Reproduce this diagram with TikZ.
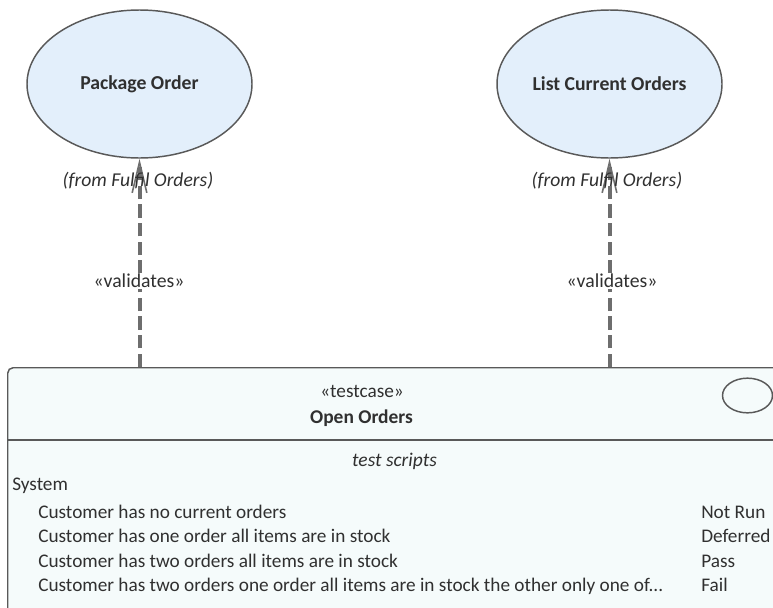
\documentclass[tikz,border=0pt]{standalone}
\usepackage{fontspec}
\setmainfont{Carlito}
\usetikzlibrary{shapes.geometric,arrows.meta}
\definecolor{txt}{HTML}{303030}
\definecolor{ucfill}{HTML}{E3EFFB}
\definecolor{tcfill}{HTML}{F5FBFB}
\definecolor{bord}{HTML}{595959}
\definecolor{dep}{HTML}{6E6E6E}
\tikzset{
  usecase/.style={ellipse, draw=bord, fill=ucfill, line width=1.1pt, minimum width=168.75pt, minimum height=111pt, inner sep=0pt, font=\fontsize{14.8}{17}\selectfont\bfseries, text=txt},
  fromlbl/.style={anchor=base, font=\fontsize{14.7}{17}\selectfont\itshape, text=txt, inner sep=0pt},
  deparrow/.style={draw=dep, line width=3pt, dash pattern=on 10pt off 4pt, -{Straight Barb[length=23pt,width=11pt,line width=1.2pt]}},
  stereo/.style={fill=white, inner sep=1pt, font=\fontsize{14.8}{17}\selectfont, text=txt},
  tctext/.style={anchor=base, inner sep=0pt, font=\fontsize{14.45}{17}\selectfont, text=txt},
}
\begin{document}
\begin{tikzpicture}[x=0.75pt,y=-0.75pt]
\useasboundingbox (0,0) rectangle (773,607);
% use cases
\node[usecase] (po) at (139.5,84) {Package Order};
\node[usecase] (lco) at (609.5,84) {List Current Orders};
% test case box
\begin{scope}
\clip (0,0) rectangle (773,607);
\node[draw=bord, fill=tcfill, line width=1.1pt, rounded corners=4pt, anchor=north west, minimum width=587pt, minimum height=190pt, inner sep=0pt] (tc) at (7,367) {};
\draw[bord, line width=1.1pt] (tc.west |- 0,440) coordinate (dl) -- (tc.east |- 0,440) coordinate (dr);
\node[ellipse, draw=bord, line width=1.1pt, minimum width=37.5pt, minimum height=26pt, inner sep=0pt] (icon) at (747.5,395.5) {};
\end{scope}
% header texts
\node[tctext] (st) at (362,397) {«testcase»};
\node[tctext, font=\fontsize{14.6}{17}\selectfont\bfseries] (nm) at (361.5,423) {Open Orders};
\node[tctext, font=\fontsize{14.6}{17}\selectfont\itshape] (ts) at (394.5,466) {test scripts};
\node[tctext, anchor=base west] (sys) at (12,490) {System};
\node[tctext, anchor=base west] (r1) at (38,518) {Customer has no current orders};
\node[tctext, anchor=base west] (r2) at (38,542.5) {Customer has one order all items are in stock};
\node[tctext, anchor=base west] (r3) at (38,567) {Customer has two orders all items are in stock};
\node[tctext, anchor=base west] (r4) at (38,591.5) {Customer has two orders one order all items are in stock the other only one of...};
\node[tctext, anchor=base west] (s1) at (701,518) {Not Run};
\node[tctext, anchor=base west] (s2) at (701,542.5) {Deferred};
\node[tctext, anchor=base west] (s3) at (701,567) {Pass};
\node[tctext, anchor=base west] (s4) at (701,591.5) {Fail};
% connectors
\coordinate (a1) at (tc.north -| po.south);
\coordinate (a2) at (tc.north -| lco.south);
\draw[deparrow] (a1) -- (po.south);
\draw[deparrow] (a2) -- (lco.south);
% labels
\node[fromlbl] (f1) at (138,186) {(from Fulfil Orders)};
\node[fromlbl] (f2) at (607,186) {(from Fulfil Orders)};
\node[stereo] (v1) at (139,281) {«validates»};
\node[stereo] (v2) at (612,281) {«validates»};
\end{tikzpicture}
\end{document}
